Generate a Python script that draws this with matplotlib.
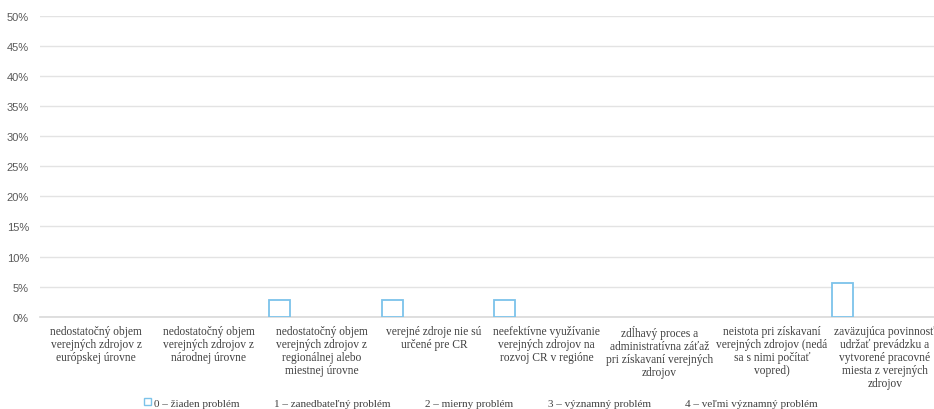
import matplotlib
matplotlib.use("Agg")
import matplotlib.pyplot as plt
import numpy as np
from matplotlib.patches import Patch
from matplotlib.ticker import PercentFormatter

categories = [
    "nedostatočný objem\nverejných zdrojov z\neurópskej úrovne",
    "nedostatočný objem\nverejných zdrojov z\nnárodnej úrovne",
    "nedostatočný objem\nverejných zdrojov z\nregionálnej alebo\nmiestnej úrovne",
    "verejné zdroje nie sú\nurčené pre CR",
    "neefektívne využívanie\nverejných zdrojov na\nrozvoj CR v regióne",
    "zdĺhavý proces a\nadministratívna záťaž\npri získavaní verejných\nzdrojov",
    "neistota pri získavaní\nverejných zdrojov (nedá\nsa s nimi počítať\nvopred)",
    "zaväzujúca povinnosť\nudržať prevádzku a\nvytvorené pracovné\nmiesta z verejných\nzdrojov",
]
series_names = [
    "0 – žiaden problém",
    "1 – zanedbateľný problém",
    "2 – mierny problém",
    "3 – významný problém",
    "4 – veľmi významný problém",
]
s0 = [0.0, 0.0, 2.78, 2.78, 2.78, 0.0, 0.0, 5.56]
s1 = [0.0] * 8
s2 = [0.0] * 8
s3 = [0.0] * 8
s4 = [0.0] * 8
series_values = [s0, s1, s2, s3, s4]
yticks = [0, 5, 10, 15, 20, 25, 30, 35, 40, 45, 50]

fig = plt.figure(figsize=(9.34, 4.10), dpi=100)
W, H = 934, 410
left, right = 40, 941
top, bottom = 17, 317.7
ax = fig.add_axes([left / W, (H - bottom) / H, (right - left) / W, (bottom - top) / H])

x = np.arange(len(categories))
bw = 0.187
edgecolors = ["#7cc3ea", "none", "none", "none", "none"]
for i, vals in enumerate(series_values):
    v = np.array(vals, dtype=float)
    v = np.where(v > 0, v, np.nan)  # zero values draw no mark
    offs = (i - 2) * bw
    ax.bar(x + offs, v, width=bw, facecolor="white",
           edgecolor=edgecolors[i], linewidth=1.3, zorder=3)

ax.set_xlim(-0.5, len(categories) - 0.5)
ax.set_ylim(0, 50)
ax.set_yticks(yticks)
ax.yaxis.set_major_formatter(PercentFormatter(decimals=0))
ax.grid(axis="y", color="#e3e3e3", linewidth=1, zorder=0)
for s in ["top", "right", "left"]:
    ax.spines[s].set_visible(False)
ax.spines["bottom"].set_color("#d9d9d9")
ax.spines["bottom"].set_linewidth(1.2)
ax.tick_params(axis="both", length=0)
ax.tick_params(axis="y", labelsize=8, labelcolor="#595959", pad=8)
for t in ax.get_yticklabels():
    t.set_family(["Liberation Sans", "DejaVu Sans"])
ax.set_xticks(x)
ax.set_xticklabels(categories, fontsize=8.3, family=["Liberation Serif", "DejaVu Serif"],
                   color="#404040", linespacing=1.12)
ax.tick_params(axis="x", pad=6)

handles = [
    Patch(facecolor="white", edgecolor="#7cc3ea", linewidth=1.0),
    Patch(facecolor="white", edgecolor="none"),
    Patch(facecolor="white", edgecolor="none"),
    Patch(facecolor="white", edgecolor="none"),
    Patch(facecolor="white", edgecolor="none"),
]
leg = fig.legend(handles, series_names, loc="center", bbox_to_anchor=(481 / W, (H - 404) / H),
                 ncol=5, frameon=False, handlelength=0.6, handleheight=0.6,
                 handletextpad=0.3, columnspacing=2.2,
                 prop={"family": ["Liberation Serif", "DejaVu Serif"], "size": 8})
for t in leg.get_texts():
    t.set_color("#404040")

fig.savefig("out.png", dpi=100)
